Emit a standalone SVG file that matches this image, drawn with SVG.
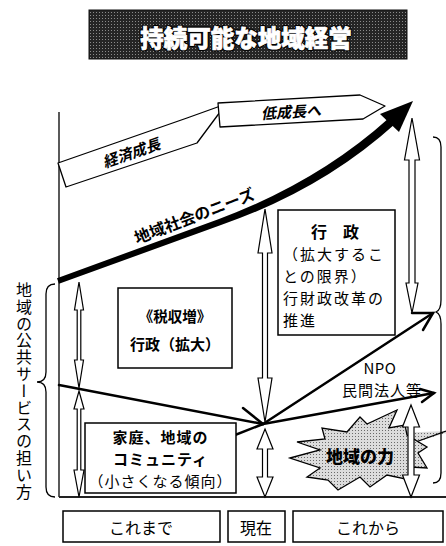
<svg xmlns="http://www.w3.org/2000/svg" width="446" height="546" viewBox="0 0 446 546">
<style>
.jp{font-family:"Noto Sans CJK JP","Noto Sans",sans-serif}
.ln{stroke:#000;stroke-width:2.5;fill:none;stroke-linecap:round}
.thin{stroke:#000;stroke-width:1.3;fill:none}
.box{fill:#fff;stroke:#000;stroke-width:1.5}
.ha{fill:#fff;stroke:#000;stroke-width:1.2;stroke-linejoin:miter}
.ban{fill:#fff;stroke:#000;stroke-width:1.3;stroke-linejoin:round}
.b{font-weight:bold}
</style>
<defs>
<pattern id="dk" width="3" height="3" patternUnits="userSpaceOnUse"><rect width="3" height="3" fill="#252525"/><rect width="1" height="1" fill="#8a8a8a"/></pattern>
<pattern id="lt" width="3" height="3" patternUnits="userSpaceOnUse"><rect width="3" height="3" fill="#dcdcdc"/><rect x="1" y="1" width="1" height="1" fill="#6a6a6a"/></pattern>
</defs>

<g id="title">
<rect x="89" y="10" width="318" height="49" fill="url(#dk)" stroke="#111" stroke-width="1"/>
<text class="jp" x="246" y="37" font-size="23.5" style="font-weight:900" fill="#fff" stroke="#000" stroke-width="3" stroke-linejoin="round" text-anchor="middle" dominant-baseline="central">持続可能な地域経営</text>
<text class="jp" x="246" y="37" font-size="23.5" style="font-weight:900" fill="#fff" stroke="#fff" stroke-width="0.7" text-anchor="middle" dominant-baseline="central">持続可能な地域経営</text>
</g>

<g id="axes">
<line class="thin" x1="59" y1="112" x2="59" y2="497"/>
<line x1="59" y1="497" x2="446" y2="497" stroke="#222" stroke-width="1.8"/>
</g>

<g id="growth">
<polygon class="ban" points="58,163 187,118 226,104 197,143 66,187"/>
<text class="jp b" x="131" y="152" font-size="15" font-style="italic" text-anchor="middle" dominant-baseline="central" transform="rotate(-19 131 152)">経済成長</text>
</g>
<g id="lowgrowth">
<polygon class="ban" points="218,103 360,95 385,106 363,119 220,127"/>
<text class="jp b" x="291" y="111" font-size="15" font-style="italic" text-anchor="middle" dominant-baseline="central" transform="rotate(-3 291 111)">低成長へ</text>
</g>

<g id="needs">
<path d="M57,278.2 L219,219 Q318,182 389,118 L395,124 Q322,190 221,225 L59,283.8 Z" fill="#000"/>
<polygon points="413,101 380,114 399,132" fill="#000"/>
<text class="jp b" x="194" y="215" font-size="16" text-anchor="middle" dominant-baseline="central" transform="rotate(-21 194 215)">地域社会のニーズ</text>
</g>

<g id="burst">
<polygon points="395,433 446,431 446,433 413,443 395,450" fill="url(#lt)"/>
<line class="thin" x1="413" y1="443" x2="446" y2="431"/>
<polygon points="290,458 320,450 297,442 325,439 322,428 347,432 360,417 367,424 397,410 389,428 405,425 407,435 427,447 418,453 427,468 410,467 410,480 387,475 370,487 360,477 338,490 328,480 307,477 320,468" fill="url(#lt)" stroke="#000" stroke-width="1.3" stroke-linejoin="miter"/>
<text class="jp" x="360" y="455" font-size="17" style="font-weight:900" text-anchor="middle" dominant-baseline="central">地域の力</text>
</g>

<g id="connectors">
<line class="ln" x1="59" y1="385" x2="263" y2="424"/>
<line class="ln" x1="230" y1="437" x2="263" y2="424"/>
<line class="ln" x1="243" y1="408" x2="263" y2="424"/>
<line class="ln" x1="263" y1="424" x2="433" y2="313"/>
<polyline class="ln" points="412,313 433,313 423,330"/>
<line class="ln" x1="263" y1="424" x2="434" y2="393"/>
<polyline class="ln" points="420,389 434,393 422,402"/>
<path class="ha" d="M79,282 L83.5,310 L80.8,310 L80.8,360 L83.5,360 L79,388 L74.5,360 L77.2,360 L77.2,310 L74.5,310 Z"/>
<path class="ha" d="M79,391 L84,409 L80.8,409 L80.8,470 L84,470 L79,497 L74,470 L77.2,470 L77.2,409 L74,409 Z"/>
<path class="ha" d="M265,209 L272,253 L267.5,253 L267.5,378 L272,378 L265,422 L258,378 L262.5,378 L262.5,253 L258,253 Z"/>
<path class="ha" d="M265,429 L273,449 L267.5,449 L267.5,477 L273,477 L265,497 L257,477 L262.5,477 L262.5,449 L257,449 Z"/>
<path class="ha" d="M412,118 L419.5,160 L415,160 L415,283 L418,283 L412,313 L406,283 L409,283 L409,160 L404.5,160 Z"/>
<path class="ha" d="M411,405 L419.5,427 L414,427 L414,475 L419.5,475 L411,497 L402.5,475 L408,475 L408,427 L402.5,427 Z"/>
<path class="thin" d="M433,137 Q441,137 441,147 L441,300 Q441,310 436,312 Q441,314 441,324 L441,473 Q441,483 433,483"/>
<path class="thin" d="M55,284 Q46,284 46,294 L46,372 Q46,382 37,382 Q46,382 46,392 L46,487 Q46,497 55,497"/>
</g>

<g id="box-tax">
<rect class="box" x="118" y="288" width="114" height="80"/>
<text class="jp b" x="175" y="315" font-size="14.5" text-anchor="middle" dominant-baseline="central">《税収増》</text>
<text class="jp b" x="175" y="343" font-size="15" text-anchor="middle" dominant-baseline="central">行政（拡大）</text>
</g>

<g id="box-community">
<rect class="box" x="85" y="423" width="151" height="70"/>
<text class="jp b" x="160.5" y="436" font-size="15" letter-spacing="1" text-anchor="middle" dominant-baseline="central">家庭、地域の</text>
<text class="jp b" x="160.5" y="458" font-size="15" letter-spacing="1" text-anchor="middle" dominant-baseline="central">コミュニティ</text>
<text class="jp" x="160.5" y="480" font-size="15" letter-spacing="1" text-anchor="middle" dominant-baseline="central">（小さくなる傾向）</text>
</g>

<g id="box-admin">
<rect class="box" x="278" y="210" width="117" height="125"/>
<text class="jp b" x="335" y="231" font-size="16" text-anchor="middle" dominant-baseline="central">行　政</text>
<text class="jp" x="283" y="253" font-size="15" letter-spacing="2" dominant-baseline="central">（拡大するこ</text>
<text class="jp" x="283" y="275" font-size="15" letter-spacing="2" dominant-baseline="central">との限界）</text>
<text class="jp" x="283" y="297" font-size="15" letter-spacing="2" dominant-baseline="central">行財政改革の</text>
<text class="jp" x="283" y="319" font-size="15" letter-spacing="2" dominant-baseline="central">推進</text>
</g>

<g id="npo">
<text class="jp" x="380" y="367" font-size="15" letter-spacing="0.5" text-anchor="middle" dominant-baseline="central">NPO</text>
<text class="jp" x="382" y="389" font-size="15" letter-spacing="1" text-anchor="middle" dominant-baseline="central">民間法人等</text>
</g>

<g id="ylabel">
<text class="jp" x="24" y="282" font-size="16" letter-spacing="0.8" style="writing-mode:vertical-rl">地域の公共サービスの担い方</text>
</g>

<g id="period-past">
<rect class="box" x="63" y="511" width="157" height="31" stroke-width="1.3"/>
<text class="jp" x="141" y="527" font-size="16" text-anchor="middle" dominant-baseline="central">これまで</text>
</g>
<g id="period-now">
<rect class="box" x="228" y="511" width="57" height="31" stroke-width="1.3"/>
<text class="jp" x="256" y="527" font-size="16" text-anchor="middle" dominant-baseline="central">現在</text>
</g>
<g id="period-future">
<rect class="box" x="293" y="511" width="150" height="31" stroke-width="1.3"/>
<text class="jp" x="368" y="527" font-size="16" text-anchor="middle" dominant-baseline="central">これから</text>
</g>
</svg>
